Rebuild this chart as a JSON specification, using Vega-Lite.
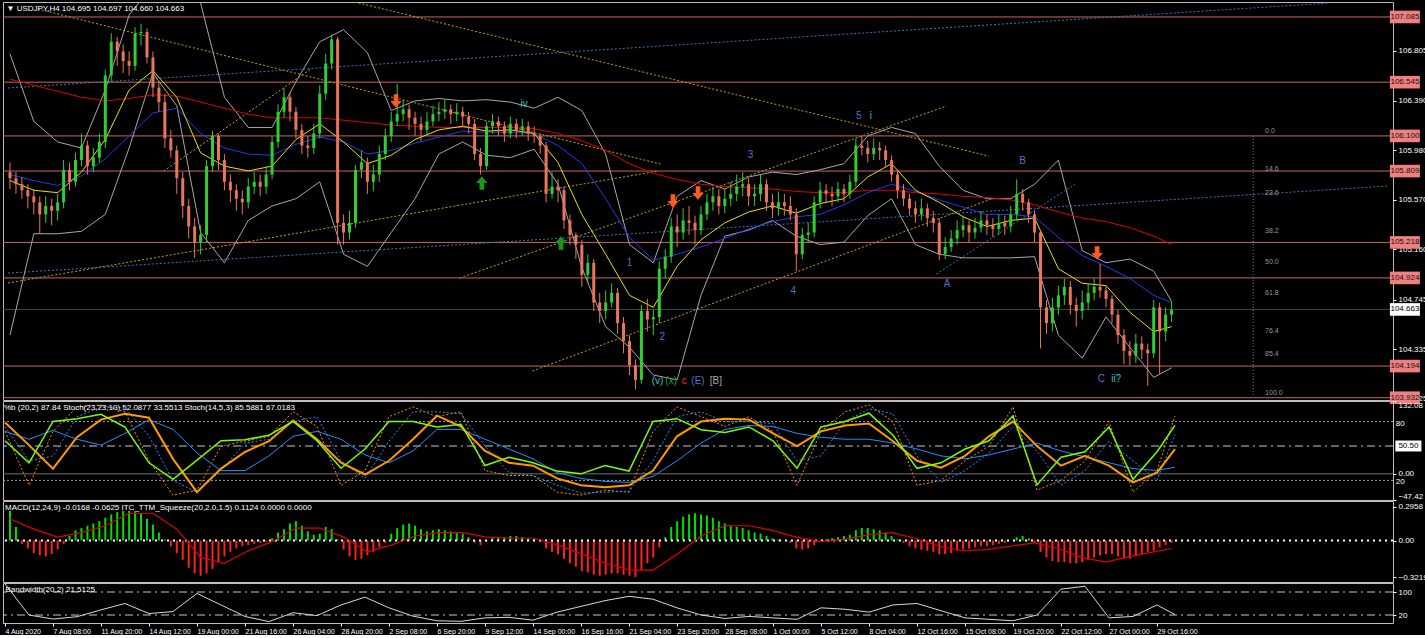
{
"$schema":"https://vega.github.io/schema/vega-lite/v6.json",
"background":"#000000",
"padding":{"top":1,"left":0,"right":0,"bottom":0},
"spacing":1,
"bounds":"flush",
"config":{"view":{"stroke":"#bdbdbd","strokeWidth":1},"axis":{"labelColor":"#ffffff","tickColor":"#ffffff","domain":false,"labelFont":"Liberation Sans","labelFontSize":8,"grid":false,"tickSize":3,"labelPadding":2},"title":{"font":"Liberation Sans","fontSize":8,"fontWeight":"normal","color":"#ffffff","anchor":"start","offset":-11,"dx":4}},
"datasets":{
"c":[
{"k":0,"o":105.8,"h":105.88,"l":105.66,"c":105.75,"m":0.26},
{"k":1,"o":105.75,"h":105.8,"l":105.62,"c":105.7,"m":0.12},
{"k":2,"o":105.7,"h":105.76,"l":105.58,"c":105.65,"m":-0.03},
{"k":3,"o":105.65,"h":105.7,"l":105.5,"c":105.6,"m":-0.07},
{"k":4,"o":105.6,"h":105.66,"l":105.45,"c":105.55,"m":-0.11},
{"k":5,"o":105.55,"h":105.6,"l":105.29,"c":105.45,"m":-0.13},
{"k":6,"o":105.45,"h":105.6,"l":105.38,"c":105.52,"m":-0.14},
{"k":7,"o":105.52,"h":105.58,"l":105.36,"c":105.48,"m":-0.12},
{"k":8,"o":105.48,"h":105.62,"l":105.4,"c":105.55,"m":-0.08},
{"k":9,"o":105.55,"h":105.9,"l":105.5,"c":105.82,"m":-0.03},
{"k":10,"o":105.82,"h":105.88,"l":105.65,"c":105.72,"m":0.04},
{"k":11,"o":105.72,"h":105.96,"l":105.68,"c":105.9,"m":0.09},
{"k":12,"o":105.9,"h":106.12,"l":105.85,"c":106.02,"m":0.11},
{"k":13,"o":106.02,"h":106.06,"l":105.78,"c":105.85,"m":0.13},
{"k":14,"o":105.85,"h":106.0,"l":105.8,"c":105.92,"m":0.15},
{"k":15,"o":105.92,"h":106.12,"l":105.88,"c":106.05,"m":0.17},
{"k":16,"o":106.05,"h":106.65,"l":106.0,"c":106.6,"m":0.2},
{"k":17,"o":106.6,"h":106.95,"l":106.55,"c":106.88,"m":0.23},
{"k":18,"o":106.88,"h":106.92,"l":106.68,"c":106.8,"m":0.25},
{"k":19,"o":106.8,"h":106.86,"l":106.62,"c":106.72,"m":0.26},
{"k":20,"o":106.72,"h":106.8,"l":106.6,"c":106.68,"m":0.26},
{"k":21,"o":106.68,"h":107.0,"l":106.64,"c":106.95,"m":0.25},
{"k":22,"o":106.95,"h":107.03,"l":106.85,"c":106.96,"m":0.24},
{"k":23,"o":106.96,"h":106.99,"l":106.7,"c":106.75,"m":0.19},
{"k":24,"o":106.75,"h":106.8,"l":106.42,"c":106.5,"m":0.14},
{"k":25,"o":106.5,"h":106.55,"l":106.3,"c":106.38,"m":0.07},
{"k":26,"o":106.38,"h":106.45,"l":106.0,"c":106.08,"m":0.01},
{"k":27,"o":106.08,"h":106.15,"l":105.92,"c":105.98,"m":-0.05},
{"k":28,"o":105.98,"h":106.02,"l":105.62,"c":105.75,"m":-0.11},
{"k":29,"o":105.75,"h":105.8,"l":105.42,"c":105.52,"m":-0.17},
{"k":30,"o":105.52,"h":105.58,"l":105.25,"c":105.35,"m":-0.24},
{"k":31,"o":105.35,"h":105.42,"l":105.09,"c":105.22,"m":-0.29},
{"k":32,"o":105.22,"h":105.36,"l":105.12,"c":105.28,"m":-0.31},
{"k":33,"o":105.28,"h":105.9,"l":105.22,"c":105.85,"m":-0.29},
{"k":34,"o":105.85,"h":106.14,"l":105.8,"c":106.1,"m":-0.25},
{"k":35,"o":106.1,"h":106.12,"l":105.82,"c":105.9,"m":-0.19},
{"k":36,"o":105.9,"h":105.95,"l":105.65,"c":105.72,"m":-0.14},
{"k":37,"o":105.72,"h":105.78,"l":105.55,"c":105.65,"m":-0.1},
{"k":38,"o":105.65,"h":105.7,"l":105.48,"c":105.58,"m":-0.07},
{"k":39,"o":105.58,"h":105.65,"l":105.45,"c":105.55,"m":-0.05},
{"k":40,"o":105.55,"h":105.75,"l":105.5,"c":105.68,"m":-0.04},
{"k":41,"o":105.68,"h":105.8,"l":105.62,"c":105.72,"m":-0.03},
{"k":42,"o":105.72,"h":105.78,"l":105.6,"c":105.68,"m":-0.02},
{"k":43,"o":105.68,"h":105.85,"l":105.62,"c":105.78,"m":-0.01},
{"k":44,"o":105.78,"h":106.1,"l":105.74,"c":106.05,"m":0.02},
{"k":45,"o":106.05,"h":106.36,"l":106.0,"c":106.3,"m":0.07},
{"k":46,"o":106.3,"h":106.5,"l":106.25,"c":106.42,"m":0.1},
{"k":47,"o":106.42,"h":106.46,"l":106.22,"c":106.3,"m":0.15},
{"k":48,"o":106.3,"h":106.34,"l":106.08,"c":106.15,"m":0.17},
{"k":49,"o":106.15,"h":106.2,"l":105.95,"c":106.02,"m":0.13},
{"k":50,"o":106.02,"h":106.1,"l":105.92,"c":106.0,"m":0.08},
{"k":51,"o":106.0,"h":106.2,"l":105.95,"c":106.12,"m":0.05},
{"k":52,"o":106.12,"h":106.52,"l":106.08,"c":106.45,"m":0.06},
{"k":53,"o":106.45,"h":106.78,"l":106.4,"c":106.7,"m":0.12},
{"k":54,"o":106.7,"h":106.94,"l":106.65,"c":106.9,"m":0.1},
{"k":55,"o":106.9,"h":106.92,"l":105.2,"c":105.38,"m":0.01},
{"k":56,"o":105.38,"h":105.45,"l":105.2,"c":105.3,"m":-0.08},
{"k":57,"o":105.3,"h":105.48,"l":105.24,"c":105.38,"m":-0.14},
{"k":58,"o":105.38,"h":105.86,"l":105.34,"c":105.82,"m":-0.17},
{"k":59,"o":105.82,"h":105.98,"l":105.75,"c":105.88,"m":-0.16},
{"k":60,"o":105.88,"h":105.92,"l":105.62,"c":105.72,"m":-0.13},
{"k":61,"o":105.72,"h":105.86,"l":105.64,"c":105.78,"m":-0.1},
{"k":62,"o":105.78,"h":106.02,"l":105.72,"c":105.95,"m":-0.06},
{"k":63,"o":105.95,"h":106.16,"l":105.9,"c":106.1,"m":-0.02},
{"k":64,"o":106.1,"h":106.3,"l":106.05,"c":106.22,"m":0.06},
{"k":65,"o":106.22,"h":106.53,"l":106.18,"c":106.28,"m":0.11},
{"k":66,"o":106.28,"h":106.4,"l":106.22,"c":106.32,"m":0.14},
{"k":67,"o":106.32,"h":106.36,"l":106.15,"c":106.25,"m":0.15},
{"k":68,"o":106.25,"h":106.3,"l":106.1,"c":106.2,"m":0.13},
{"k":69,"o":106.2,"h":106.26,"l":106.06,"c":106.15,"m":0.1},
{"k":70,"o":106.15,"h":106.3,"l":106.1,"c":106.22,"m":0.08},
{"k":71,"o":106.22,"h":106.35,"l":106.18,"c":106.28,"m":0.09},
{"k":72,"o":106.28,"h":106.38,"l":106.22,"c":106.3,"m":0.1},
{"k":73,"o":106.3,"h":106.4,"l":106.24,"c":106.32,"m":0.09},
{"k":74,"o":106.32,"h":106.36,"l":106.2,"c":106.28,"m":0.08},
{"k":75,"o":106.28,"h":106.37,"l":106.22,"c":106.3,"m":0.07},
{"k":76,"o":106.3,"h":106.34,"l":106.18,"c":106.26,"m":0.06},
{"k":77,"o":106.26,"h":106.3,"l":106.12,"c":106.2,"m":0.03},
{"k":78,"o":106.2,"h":106.24,"l":105.9,"c":105.95,"m":-0.02},
{"k":79,"o":105.95,"h":106.0,"l":105.78,"c":105.85,"m":-0.04},
{"k":80,"o":105.85,"h":106.22,"l":105.82,"c":106.18,"m":-0.01},
{"k":81,"o":106.18,"h":106.28,"l":106.12,"c":106.22,"m":0.02},
{"k":82,"o":106.22,"h":106.26,"l":106.1,"c":106.18,"m":0.03},
{"k":83,"o":106.18,"h":106.22,"l":106.05,"c":106.12,"m":0.03},
{"k":84,"o":106.12,"h":106.26,"l":106.08,"c":106.2,"m":0.04},
{"k":85,"o":106.2,"h":106.24,"l":106.08,"c":106.15,"m":0.04},
{"k":86,"o":106.15,"h":106.24,"l":106.1,"c":106.18,"m":0.03},
{"k":87,"o":106.18,"h":106.22,"l":106.06,"c":106.12,"m":0.02},
{"k":88,"o":106.12,"h":106.18,"l":106.04,"c":106.1,"m":0.01},
{"k":89,"o":106.1,"h":106.12,"l":105.95,"c":106.02,"m":-0.01},
{"k":90,"o":106.02,"h":106.05,"l":105.55,"c":105.62,"m":-0.07},
{"k":91,"o":105.62,"h":105.8,"l":105.58,"c":105.68,"m":-0.1},
{"k":92,"o":105.68,"h":105.74,"l":105.55,"c":105.65,"m":-0.12},
{"k":93,"o":105.65,"h":105.68,"l":105.33,"c":105.4,"m":-0.16},
{"k":94,"o":105.4,"h":105.45,"l":105.2,"c":105.28,"m":-0.2},
{"k":95,"o":105.28,"h":105.3,"l":105.08,"c":105.2,"m":-0.23},
{"k":96,"o":105.2,"h":105.24,"l":104.85,"c":104.95,"m":-0.27},
{"k":97,"o":104.95,"h":105.12,"l":104.88,"c":105.05,"m":-0.28},
{"k":98,"o":105.05,"h":105.08,"l":104.65,"c":104.72,"m":-0.3},
{"k":99,"o":104.72,"h":104.8,"l":104.55,"c":104.65,"m":-0.31},
{"k":100,"o":104.65,"h":104.82,"l":104.58,"c":104.72,"m":-0.3},
{"k":101,"o":104.72,"h":104.88,"l":104.68,"c":104.8,"m":-0.29},
{"k":102,"o":104.8,"h":104.84,"l":104.46,"c":104.55,"m":-0.29},
{"k":103,"o":104.55,"h":104.6,"l":104.3,"c":104.4,"m":-0.3},
{"k":104,"o":104.4,"h":104.45,"l":104.12,"c":104.2,"m":-0.31},
{"k":105,"o":104.2,"h":104.25,"l":104.0,"c":104.08,"m":-0.32},
{"k":106,"o":104.08,"h":104.7,"l":104.05,"c":104.65,"m":-0.26},
{"k":107,"o":104.65,"h":104.75,"l":104.48,"c":104.58,"m":-0.2},
{"k":108,"o":104.58,"h":104.66,"l":104.45,"c":104.6,"m":-0.15},
{"k":109,"o":104.6,"h":105.06,"l":104.55,"c":105.0,"m":-0.06},
{"k":110,"o":105.0,"h":105.16,"l":104.92,"c":105.1,"m":0.03},
{"k":111,"o":105.1,"h":105.42,"l":105.05,"c":105.35,"m":0.12},
{"k":112,"o":105.35,"h":105.45,"l":105.18,"c":105.3,"m":0.17},
{"k":113,"o":105.3,"h":105.5,"l":105.24,"c":105.4,"m":0.21},
{"k":114,"o":105.4,"h":105.52,"l":105.28,"c":105.38,"m":0.23},
{"k":115,"o":105.38,"h":105.44,"l":105.2,"c":105.32,"m":0.24},
{"k":116,"o":105.32,"h":105.52,"l":105.28,"c":105.45,"m":0.23},
{"k":117,"o":105.45,"h":105.62,"l":105.4,"c":105.55,"m":0.22},
{"k":118,"o":105.55,"h":105.68,"l":105.48,"c":105.6,"m":0.2},
{"k":119,"o":105.6,"h":105.66,"l":105.45,"c":105.52,"m":0.17},
{"k":120,"o":105.52,"h":105.66,"l":105.46,"c":105.58,"m":0.15},
{"k":121,"o":105.58,"h":105.72,"l":105.52,"c":105.62,"m":0.13},
{"k":122,"o":105.62,"h":105.78,"l":105.56,"c":105.68,"m":0.12},
{"k":123,"o":105.68,"h":105.8,"l":105.6,"c":105.7,"m":0.11},
{"k":124,"o":105.7,"h":105.75,"l":105.52,"c":105.6,"m":0.09},
{"k":125,"o":105.6,"h":105.7,"l":105.52,"c":105.62,"m":0.07},
{"k":126,"o":105.62,"h":105.78,"l":105.56,"c":105.7,"m":0.06},
{"k":127,"o":105.7,"h":105.74,"l":105.48,"c":105.55,"m":0.04},
{"k":128,"o":105.55,"h":105.62,"l":105.42,"c":105.5,"m":0.02},
{"k":129,"o":105.5,"h":105.64,"l":105.44,"c":105.55,"m":0.01},
{"k":130,"o":105.55,"h":105.62,"l":105.44,"c":105.52,"m":0.0},
{"k":131,"o":105.52,"h":105.6,"l":105.4,"c":105.45,"m":-0.02},
{"k":132,"o":105.45,"h":105.5,"l":104.98,"c":105.12,"m":-0.07},
{"k":133,"o":105.12,"h":105.34,"l":105.08,"c":105.28,"m":-0.08},
{"k":134,"o":105.28,"h":105.38,"l":105.22,"c":105.3,"m":-0.07},
{"k":135,"o":105.3,"h":105.6,"l":105.26,"c":105.55,"m":-0.04},
{"k":136,"o":105.55,"h":105.72,"l":105.5,"c":105.65,"m":-0.01},
{"k":137,"o":105.65,"h":105.7,"l":105.55,"c":105.62,"m":0.01},
{"k":138,"o":105.62,"h":105.68,"l":105.52,"c":105.6,"m":0.02},
{"k":139,"o":105.6,"h":105.72,"l":105.55,"c":105.66,"m":0.03},
{"k":140,"o":105.66,"h":105.7,"l":105.55,"c":105.62,"m":0.04},
{"k":141,"o":105.62,"h":105.78,"l":105.58,"c":105.72,"m":0.05},
{"k":142,"o":105.72,"h":106.08,"l":105.68,"c":106.02,"m":0.09},
{"k":143,"o":106.02,"h":106.1,"l":105.94,"c":106.0,"m":0.11},
{"k":144,"o":106.0,"h":106.06,"l":105.88,"c":105.95,"m":0.11},
{"k":145,"o":105.95,"h":106.08,"l":105.9,"c":106.0,"m":0.1},
{"k":146,"o":106.0,"h":106.05,"l":105.9,"c":105.98,"m":0.09},
{"k":147,"o":105.98,"h":106.02,"l":105.84,"c":105.9,"m":0.07},
{"k":148,"o":105.9,"h":105.94,"l":105.72,"c":105.78,"m":0.04},
{"k":149,"o":105.78,"h":105.82,"l":105.58,"c":105.65,"m":0.01},
{"k":150,"o":105.65,"h":105.7,"l":105.52,"c":105.58,"m":-0.02},
{"k":151,"o":105.58,"h":105.62,"l":105.44,"c":105.5,"m":-0.05},
{"k":152,"o":105.5,"h":105.56,"l":105.38,"c":105.45,"m":-0.07},
{"k":153,"o":105.45,"h":105.58,"l":105.4,"c":105.5,"m":-0.08},
{"k":154,"o":105.5,"h":105.54,"l":105.35,"c":105.42,"m":-0.09},
{"k":155,"o":105.42,"h":105.48,"l":105.3,"c":105.38,"m":-0.1},
{"k":156,"o":105.38,"h":105.42,"l":105.07,"c":105.12,"m":-0.12},
{"k":157,"o":105.12,"h":105.26,"l":105.08,"c":105.18,"m":-0.12},
{"k":158,"o":105.18,"h":105.32,"l":105.14,"c":105.25,"m":-0.11},
{"k":159,"o":105.25,"h":105.4,"l":105.2,"c":105.32,"m":-0.09},
{"k":160,"o":105.32,"h":105.44,"l":105.26,"c":105.36,"m":-0.08},
{"k":161,"o":105.36,"h":105.4,"l":105.22,"c":105.3,"m":-0.07},
{"k":162,"o":105.3,"h":105.42,"l":105.25,"c":105.34,"m":-0.06},
{"k":163,"o":105.34,"h":105.48,"l":105.3,"c":105.4,"m":-0.05},
{"k":164,"o":105.4,"h":105.45,"l":105.28,"c":105.36,"m":-0.05},
{"k":165,"o":105.36,"h":105.42,"l":105.26,"c":105.33,"m":-0.04},
{"k":166,"o":105.33,"h":105.45,"l":105.28,"c":105.38,"m":-0.03},
{"k":167,"o":105.38,"h":105.44,"l":105.28,"c":105.35,"m":-0.02},
{"k":168,"o":105.35,"h":105.52,"l":105.3,"c":105.45,"m":0.0},
{"k":169,"o":105.45,"h":105.74,"l":105.4,"c":105.62,"m":0.03},
{"k":170,"o":105.62,"h":105.66,"l":105.48,"c":105.55,"m":0.04},
{"k":171,"o":105.55,"h":105.58,"l":105.38,"c":105.45,"m":0.02},
{"k":172,"o":105.45,"h":105.48,"l":105.22,"c":105.3,"m":-0.02},
{"k":173,"o":105.3,"h":105.32,"l":104.34,"c":104.68,"m":-0.1},
{"k":174,"o":104.68,"h":104.74,"l":104.46,"c":104.55,"m":-0.15},
{"k":175,"o":104.55,"h":104.76,"l":104.48,"c":104.68,"m":-0.18},
{"k":176,"o":104.68,"h":104.86,"l":104.62,"c":104.78,"m":-0.19},
{"k":177,"o":104.78,"h":104.92,"l":104.7,"c":104.85,"m":-0.19},
{"k":178,"o":104.85,"h":104.9,"l":104.62,"c":104.7,"m":-0.2},
{"k":179,"o":104.7,"h":104.76,"l":104.52,"c":104.65,"m":-0.2},
{"k":180,"o":104.65,"h":104.82,"l":104.58,"c":104.72,"m":-0.19},
{"k":181,"o":104.72,"h":104.88,"l":104.66,"c":104.8,"m":-0.17},
{"k":182,"o":104.8,"h":104.92,"l":104.74,"c":104.85,"m":-0.15},
{"k":183,"o":104.85,"h":105.04,"l":104.76,"c":104.82,"m":-0.13},
{"k":184,"o":104.82,"h":104.86,"l":104.68,"c":104.75,"m":-0.12},
{"k":185,"o":104.75,"h":104.78,"l":104.55,"c":104.62,"m":-0.12},
{"k":186,"o":104.62,"h":104.66,"l":104.38,"c":104.45,"m":-0.14},
{"k":187,"o":104.45,"h":104.5,"l":104.21,"c":104.32,"m":-0.16},
{"k":188,"o":104.32,"h":104.4,"l":104.2,"c":104.28,"m":-0.16},
{"k":189,"o":104.28,"h":104.46,"l":104.22,"c":104.38,"m":-0.14},
{"k":190,"o":104.38,"h":104.44,"l":104.25,"c":104.33,"m":-0.12},
{"k":191,"o":104.33,"h":104.38,"l":104.03,"c":104.3,"m":-0.1},
{"k":192,"o":104.3,"h":104.74,"l":104.26,"c":104.68,"m":-0.09},
{"k":193,"o":104.68,"h":104.72,"l":104.13,"c":104.48,"m":-0.06},
{"k":194,"o":104.48,"h":104.68,"l":104.4,"c":104.62,"m":-0.04},
{"k":195,"o":104.62,"h":104.73,"l":104.56,"c":104.66,"m":-0.02}
],
"ind":[
{"k":0,"y1":105.73,"b2":105.78,"r3":106.57,"bu":106.78,"bl":104.45,"ms":0.19,"bw":128,"pb":60,"s1":79,"s2":70,"f1":70,"f2":75},
{"k":4,"y1":105.65,"b2":105.73,"r3":106.52,"bu":106.22,"bl":105.29,"ms":0.1,"bw":20,"pb":20,"s1":56,"s2":62,"f1":15,"f2":40},
{"k":8,"y1":105.63,"b2":105.69,"r3":106.47,"bu":106.05,"bl":105.29,"ms":0.03,"bw":6,"pb":95,"s1":32,"s2":71,"f1":70,"f2":45},
{"k":12,"y1":105.8,"b2":105.77,"r3":106.42,"bu":106.0,"bl":105.31,"ms":0.07,"bw":14,"pb":100,"s1":64,"s2":62,"f1":95,"f2":85},
{"k":16,"y1":106.07,"b2":105.91,"r3":106.39,"bu":106.48,"bl":105.45,"ms":0.13,"bw":38,"pb":108,"s1":82,"s2":56,"f1":97,"f2":95},
{"k":20,"y1":106.48,"b2":106.1,"r3":106.41,"bu":107.1,"bl":106.0,"ms":0.24,"bw":60,"pb":85,"s1":88,"s2":68,"f1":90,"f2":94},
{"k":24,"y1":106.64,"b2":106.29,"r3":106.44,"bu":107.35,"bl":106.62,"ms":0.24,"bw":25,"pb":20,"s1":84,"s2":82,"f1":40,"f2":65},
{"k":28,"y1":106.42,"b2":106.33,"r3":106.43,"bu":107.4,"bl":106.35,"ms":0.1,"bw":32,"pb":-10,"s1":42,"s2":72,"f1":5,"f2":20},
{"k":32,"y1":105.96,"b2":106.12,"r3":106.38,"bu":107.2,"bl":105.3,"ms":-0.15,"bw":95,"pb":25,"s1":8,"s2":48,"f1":10,"f2":8},
{"k":36,"y1":105.85,"b2":106.0,"r3":106.33,"bu":106.42,"bl":105.05,"ms":-0.2,"bw":55,"pb":60,"s1":32,"s2":30,"f1":55,"f2":30},
{"k":40,"y1":105.81,"b2":105.95,"r3":106.28,"bu":106.17,"bl":105.4,"ms":-0.09,"bw":15,"pb":62,"s1":49,"s2":30,"f1":60,"f2":58},
{"k":44,"y1":105.85,"b2":105.94,"r3":106.25,"bu":106.17,"bl":105.52,"ms":-0.01,"bw":-3,"pb":70,"s1":60,"s2":45,"f1":65,"f2":62},
{"k":48,"y1":106.07,"b2":106.03,"r3":106.25,"bu":106.55,"bl":105.58,"ms":0.11,"bw":28,"pb":95,"s1":81,"s2":65,"f1":90,"f2":80},
{"k":52,"y1":106.2,"b2":106.09,"r3":106.25,"bu":106.88,"bl":105.72,"ms":0.11,"bw":18,"pb":60,"s1":62,"s2":70,"f1":75,"f2":85},
{"k":56,"y1":106.05,"b2":106.05,"r3":106.23,"bu":106.98,"bl":105.12,"ms":0.03,"bw":55,"pb":10,"s1":38,"s2":62,"f1":15,"f2":40},
{"k":60,"y1":105.87,"b2":105.95,"r3":106.21,"bu":106.79,"bl":105.02,"ms":-0.1,"bw":82,"pb":45,"s1":26,"s2":46,"f1":30,"f2":22},
{"k":64,"y1":105.94,"b2":105.98,"r3":106.19,"bu":106.31,"bl":105.3,"ms":-0.04,"bw":45,"pb":95,"s1":40,"s2":38,"f1":85,"f2":60},
{"k":68,"y1":106.07,"b2":106.04,"r3":106.18,"bu":106.39,"bl":105.58,"ms":0.04,"bw":16,"pb":95,"s1":62,"s2":50,"f1":95,"f2":90},
{"k":72,"y1":106.15,"b2":106.09,"r3":106.17,"bu":106.41,"bl":105.95,"ms":0.07,"bw":0,"pb":85,"s1":86,"s2":72,"f1":85,"f2":90},
{"k":76,"y1":106.18,"b2":106.14,"r3":106.17,"bu":106.39,"bl":106.05,"ms":0.07,"bw":-2,"pb":90,"s1":75,"s2":72,"f1":90,"f2":88},
{"k":80,"y1":106.14,"b2":106.13,"r3":106.17,"bu":106.4,"bl":105.94,"ms":0.03,"bw":10,"pb":15,"s1":50,"s2":62,"f1":30,"f2":55},
{"k":84,"y1":106.15,"b2":106.13,"r3":106.17,"bu":106.38,"bl":105.92,"ms":0.02,"bw":12,"pb":30,"s1":38,"s2":52,"f1":25,"f2":28},
{"k":88,"y1":106.12,"b2":106.12,"r3":106.16,"bu":106.33,"bl":105.99,"ms":0.02,"bw":2,"pb":20,"s1":35,"s2":42,"f1":25,"f2":25},
{"k":92,"y1":105.88,"b2":106.02,"r3":106.12,"bu":106.42,"bl":105.7,"ms":-0.04,"bw":30,"pb":5,"s1":22,"s2":28,"f1":8,"f2":15},
{"k":96,"y1":105.45,"b2":105.87,"r3":106.06,"bu":106.31,"bl":105.01,"ms":-0.12,"bw":50,"pb":0,"s1":15,"s2":22,"f1":5,"f2":7},
{"k":100,"y1":105.12,"b2":105.58,"r3":105.98,"bu":105.95,"bl":104.52,"ms":-0.2,"bw":70,"pb":15,"s1":13,"s2":19,"f1":10,"f2":8},
{"k":104,"y1":104.78,"b2":105.26,"r3":105.87,"bu":105.2,"bl":104.35,"ms":-0.26,"bw":85,"pb":5,"s1":15,"s2":18,"f1":8,"f2":9},
{"k":108,"y1":104.68,"b2":105.07,"r3":105.79,"bu":105.05,"bl":104.12,"ms":-0.26,"bw":75,"pb":95,"s1":30,"s2":24,"f1":70,"f2":40},
{"k":112,"y1":105.02,"b2":105.12,"r3":105.74,"bu":105.6,"bl":104.08,"ms":-0.12,"bw":45,"pb":100,"s1":65,"s2":40,"f1":95,"f2":85},
{"k":116,"y1":105.24,"b2":105.18,"r3":105.7,"bu":105.73,"bl":104.78,"ms":0.04,"bw":20,"pb":80,"s1":80,"s2":58,"f1":85,"f2":90},
{"k":120,"y1":105.38,"b2":105.25,"r3":105.68,"bu":105.66,"bl":105.27,"ms":0.13,"bw":8,"pb":75,"s1":83,"s2":72,"f1":75,"f2":80},
{"k":124,"y1":105.47,"b2":105.33,"r3":105.67,"bu":105.76,"bl":105.32,"ms":0.13,"bw":15,"pb":85,"s1":82,"s2":76,"f1":85,"f2":80},
{"k":128,"y1":105.52,"b2":105.39,"r3":105.66,"bu":105.8,"bl":105.4,"ms":0.09,"bw":10,"pb":60,"s1":68,"s2":75,"f1":70,"f2":78},
{"k":132,"y1":105.46,"b2":105.43,"r3":105.64,"bu":105.78,"bl":105.27,"ms":0.03,"bw":5,"pb":10,"s1":55,"s2":68,"f1":15,"f2":40},
{"k":136,"y1":105.54,"b2":105.45,"r3":105.63,"bu":105.82,"bl":105.2,"ms":-0.01,"bw":45,"pb":85,"s1":70,"s2":64,"f1":70,"f2":45},
{"k":140,"y1":105.58,"b2":105.53,"r3":105.63,"bu":105.87,"bl":105.22,"ms":0.01,"bw":40,"pb":95,"s1":76,"s2":62,"f1":90,"f2":80},
{"k":144,"y1":105.76,"b2":105.63,"r3":105.65,"bu":106.1,"bl":105.44,"ms":0.05,"bw":30,"pb":110,"s1":78,"s2":62,"f1":97,"f2":93},
{"k":148,"y1":105.87,"b2":105.7,"r3":105.65,"bu":106.17,"bl":105.58,"ms":0.07,"bw":55,"pb":70,"s1":60,"s2":58,"f1":80,"f2":88},
{"k":152,"y1":105.65,"b2":105.64,"r3":105.63,"bu":106.12,"bl":105.2,"ms":0.02,"bw":60,"pb":10,"s1":40,"s2":52,"f1":15,"f2":45},
{"k":156,"y1":105.55,"b2":105.57,"r3":105.62,"bu":105.85,"bl":105.12,"ms":-0.05,"bw":35,"pb":20,"s1":33,"s2":45,"f1":20,"f2":18},
{"k":160,"y1":105.43,"b2":105.51,"r3":105.6,"bu":105.65,"bl":105.09,"ms":-0.09,"bw":10,"pb":45,"s1":45,"s2":42,"f1":40,"f2":30},
{"k":164,"y1":105.35,"b2":105.45,"r3":105.59,"bu":105.58,"bl":105.09,"ms":-0.08,"bw":5,"pb":60,"s1":65,"s2":46,"f1":55,"f2":48},
{"k":168,"y1":105.4,"b2":105.45,"r3":105.57,"bu":105.58,"bl":105.09,"ms":-0.05,"bw":0,"pb":105,"s1":80,"s2":52,"f1":95,"f2":75},
{"k":172,"y1":105.42,"b2":105.43,"r3":105.53,"bu":105.7,"bl":105.1,"ms":-0.02,"bw":20,"pb":-20,"s1":55,"s2":58,"f1":10,"f2":50},
{"k":176,"y1":105.0,"b2":105.26,"r3":105.47,"bu":105.9,"bl":104.45,"ms":-0.07,"bw":110,"pb":30,"s1":35,"s2":50,"f1":20,"f2":15},
{"k":180,"y1":104.88,"b2":105.11,"r3":105.42,"bu":105.15,"bl":104.26,"ms":-0.15,"bw":120,"pb":40,"s1":45,"s2":44,"f1":40,"f2":30},
{"k":184,"y1":104.86,"b2":105.02,"r3":105.39,"bu":105.05,"bl":104.6,"ms":-0.19,"bw":10,"pb":85,"s1":35,"s2":38,"f1":80,"f2":60},
{"k":188,"y1":104.64,"b2":104.92,"r3":105.34,"bu":105.08,"bl":104.35,"ms":-0.14,"bw":15,"pb":-10,"s1":18,"s2":32,"f1":8,"f2":40},
{"k":192,"y1":104.48,"b2":104.78,"r3":105.27,"bu":104.98,"bl":104.1,"ms":-0.1,"bw":55,"pb":40,"s1":28,"s2":30,"f1":30,"f2":20},
{"k":195,"y1":104.52,"b2":104.72,"r3":105.2,"bu":104.73,"bl":104.18,"ms":-0.07,"bw":21.5,"pb":88,"s1":52,"s2":33.5,"f1":85.6,"f2":67}
],
"lv":[{"p":107.085},{"p":106.545},{"p":106.1},{"p":105.809},{"p":105.218},{"p":104.924},{"p":104.194},{"p":103.932}],
"cur":[{"p":104.663}],
"tl":[
{"k1":4.67,"p1":107.151,"k2":109.2,"p2":105.867,"g":"y"},
{"k1":57.2,"p1":107.217,"k2":164.3,"p2":105.933,"g":"y"},
{"k1":-0.33,"p1":104.882,"k2":108.8,"p2":105.809,"g":"y"},
{"k1":25.8,"p1":105.809,"k2":50.5,"p2":106.654,"g":"y"},
{"k1":75.5,"p1":104.923,"k2":157.2,"p2":106.347,"g":"y"},
{"k1":87.7,"p1":104.153,"k2":164.7,"p2":105.577,"g":"y"},
{"k1":-0.33,"p1":106.497,"k2":221.3,"p2":107.2,"g":"b"},
{"k1":-0.33,"p1":104.964,"k2":231.3,"p2":105.685,"g":"b"},
{"k1":155.5,"p1":104.956,"k2":178.8,"p2":105.701,"g":"b"}
],
"fibv":[{"top":106.1,"bot":103.932}],
"ann":[
{"k":86.3,"p":106.364,"t":"iv","g":"t"},
{"k":124.3,"p":105.942,"t":"3","g":"w"},
{"k":142.5,"p":106.265,"t":"5","g":"w"},
{"k":144.5,"p":106.265,"t":"i","g":"t"},
{"k":170,"p":105.892,"t":"B","g":"w"},
{"k":157.3,"p":104.873,"t":"A","g":"w"},
{"k":104,"p":105.047,"t":"1","g":"w"},
{"k":109.5,"p":104.434,"t":"2","g":"w"},
{"k":131.5,"p":104.815,"t":"4","g":"w"},
{"k":108.7,"p":104.07,"t":"(v)","g":"t"},
{"k":111.0,"p":104.07,"t":"(x)","g":"x"},
{"k":113.2,"p":104.07,"t":"c","g":"c"},
{"k":115.5,"p":104.07,"t":"(E)","g":"w"},
{"k":118.5,"p":104.07,"t":"[B]","g":"gr"},
{"k":183.2,"p":104.087,"t":"C","g":"w"},
{"k":185.7,"p":104.087,"t":"ii?","g":"t"}
],
"arw":[
{"k":64.8,"p":106.389,"g":"dn"},
{"k":111.3,"p":105.561,"g":"dn"},
{"k":115.5,"p":105.627,"g":"dn"},
{"k":182.5,"p":105.13,"g":"dn"},
{"k":79.2,"p":105.71,"g":"up"},
{"k":92.5,"p":105.213,"g":"up"}
],
"fib":[{"lab":"0.0","p":106.1},{"lab":"14.6","p":105.783},{"lab":"23.6","p":105.588},{"lab":"38.2","p":105.272},{"lab":"50.0","p":105.016},{"lab":"61.8","p":104.76},{"lab":"76.4","p":104.444},{"lab":"85.4","p":104.249},{"lab":"100.0","p":103.932}]
},
"vconcat":[
{
"width":1390,"height":398,
"title":{"text":"▼ USDJPY,H4  104.695 104.697 104.660 104.663"},
"resolve":{"scale":{"color":"independent"}},
"layer":[
{"data":{"name":"lv"},"mark":{"type":"rule","color":"#c86464","strokeWidth":1},
 "encoding":{"y":{"field":"p","type":"quantitative","scale":{"domain":[103.913,107.209],"nice":false,"zero":false},
  "axis":{"orient":"right","title":null,"format":".3f","labelOverlap":false,"values":[107.01,106.805,106.6,106.39,106.185,105.98,105.775,105.57,105.365,105.16,104.955,104.745,104.54,104.335,104.13,103.925]}}}},
{"data":{"name":"cur"},"mark":{"type":"rule","color":"#2f4f4f","strokeWidth":1},
 "encoding":{"y":{"field":"p","type":"quantitative","scale":{"domain":[103.913,107.209],"nice":false,"zero":false}}}},
{"data":{"name":"tl"},"mark":{"type":"rule","strokeDash":[2,2],"strokeWidth":1,"clip":true},
 "encoding":{"x":{"field":"k1","type":"quantitative","scale":{"domain":[-0.333,231.333],"nice":false,"zero":false},"axis":null},"x2":{"field":"k2"},
  "y":{"field":"p1","type":"quantitative","scale":{"domain":[103.913,107.209],"nice":false,"zero":false}},"y2":{"field":"p2"},
  "color":{"field":"g","type":"nominal","scale":{"domain":["y","b"],"range":["#c8a400","#3a78b8"]},"legend":null}}},
{"data":{"name":"fibv"},"mark":{"type":"rule","color":"#8a8a8a","strokeDash":[1,2]},
 "encoding":{"x":{"datum":208.7,"type":"quantitative","scale":{"domain":[-0.333,231.333],"nice":false,"zero":false},"axis":null},
  "y":{"field":"top","type":"quantitative","scale":{"domain":[103.913,107.209],"nice":false,"zero":false}},"y2":{"field":"bot"}}},
{"data":{"name":"fib"},"mark":{"type":"text","color":"#9a9a9a","font":"Liberation Sans","fontSize":7,"align":"left","dy":-5},
 "encoding":{"x":{"datum":210.7,"type":"quantitative","scale":{"domain":[-0.333,231.333],"nice":false,"zero":false},"axis":null},
  "y":{"field":"p","type":"quantitative","scale":{"domain":[103.913,107.209],"nice":false,"zero":false}},"text":{"field":"lab","type":"nominal"}}},
{"data":{"name":"ind"},"transform":[{"fold":["bu","bl","r3","b2","y1"],"as":["key","val"]}],
 "mark":{"type":"line","strokeWidth":1,"clip":true},
 "encoding":{"x":{"field":"k","type":"quantitative","scale":{"domain":[-0.333,231.333],"nice":false,"zero":false},"axis":null},
  "y":{"field":"val","type":"quantitative","scale":{"domain":[103.913,107.209],"nice":false,"zero":false}},
  "color":{"field":"key","type":"nominal","scale":{"domain":["bu","bl","r3","b2","y1"],"range":["#a8a8a8","#a8a8a8","#e00000","#1e3cf0","#f0e000"]},"legend":null}}},
{"data":{"name":"c"},"mark":{"type":"rule","strokeWidth":1},
 "encoding":{"x":{"field":"k","type":"quantitative","scale":{"domain":[-0.333,231.333],"nice":false,"zero":false},"axis":null},
  "y":{"field":"l","type":"quantitative","scale":{"domain":[103.913,107.209],"nice":false,"zero":false}},"y2":{"field":"h"},
  "color":{"condition":{"test":"datum.c>=datum.o","value":"#32cd32"},"value":"#e8765c"}}},
{"data":{"name":"c"},"mark":{"type":"bar","width":3},
 "encoding":{"x":{"field":"k","type":"quantitative","scale":{"domain":[-0.333,231.333],"nice":false,"zero":false},"axis":null},
  "y":{"field":"o","type":"quantitative","scale":{"domain":[103.913,107.209],"nice":false,"zero":false}},"y2":{"field":"c"},
  "color":{"condition":{"test":"datum.c>=datum.o","value":"#32cd32"},"value":"#e8765c"}}},
{"data":{"name":"ann"},"mark":{"type":"text","font":"Liberation Sans","fontSize":10},
 "encoding":{"x":{"field":"k","type":"quantitative","scale":{"domain":[-0.333,231.333],"nice":false,"zero":false},"axis":null},
  "y":{"field":"p","type":"quantitative","scale":{"domain":[103.913,107.209],"nice":false,"zero":false}},"text":{"field":"t","type":"nominal"},
  "color":{"field":"g","type":"nominal","scale":{"domain":["w","t","x","c","gr"],"range":["#4f73c8","#40c0c0","#20a020","#ff2020","#a8a8a8"]},"legend":null}}},
{"data":{"name":"arw"},"transform":[{"filter":"datum.g=='dn'"}],
 "mark":{"type":"point","shape":"M-0.35,-1L0.35,-1L0.35,0L0.85,0L0,1L-0.85,0L-0.35,0Z","filled":true,"size":180,"color":"#ff5a1e","opacity":1},
 "encoding":{"x":{"field":"k","type":"quantitative","scale":{"domain":[-0.333,231.333],"nice":false,"zero":false},"axis":null},
  "y":{"field":"p","type":"quantitative","scale":{"domain":[103.913,107.209],"nice":false,"zero":false}}}},
{"data":{"name":"arw"},"transform":[{"filter":"datum.g=='up'"}],
 "mark":{"type":"point","shape":"M-0.35,1L0.35,1L0.35,0L0.85,0L0,-1L-0.85,0L-0.35,0Z","filled":true,"size":180,"color":"#1a961a","opacity":1},
 "encoding":{"x":{"field":"k","type":"quantitative","scale":{"domain":[-0.333,231.333],"nice":false,"zero":false},"axis":null},
  "y":{"field":"p","type":"quantitative","scale":{"domain":[103.913,107.209],"nice":false,"zero":false}}}},
{"data":{"name":"lv"},"mark":{"type":"point","shape":"M-1,-0.42H1V0.42H-1Z","filled":true,"size":900,"color":"#f08080","opacity":1},
 "encoding":{"x":{"datum":234.17,"type":"quantitative","scale":{"domain":[-0.333,231.333],"nice":false,"zero":false},"axis":null},
  "y":{"field":"p","type":"quantitative","scale":{"domain":[103.913,107.209],"nice":false,"zero":false}}}},
{"data":{"name":"lv"},"mark":{"type":"text","font":"Liberation Sans","fontSize":8,"color":"#101010"},
 "encoding":{"x":{"datum":234.17,"type":"quantitative","scale":{"domain":[-0.333,231.333],"nice":false,"zero":false},"axis":null},
  "y":{"field":"p","type":"quantitative","scale":{"domain":[103.913,107.209],"nice":false,"zero":false}},"text":{"field":"p","type":"quantitative","format":".3f"}}},
{"data":{"name":"cur"},"mark":{"type":"point","shape":"M-1,-0.42H1V0.42H-1Z","filled":true,"size":900,"color":"#ffffff","opacity":1},
 "encoding":{"x":{"datum":234.17,"type":"quantitative","scale":{"domain":[-0.333,231.333],"nice":false,"zero":false},"axis":null},
  "y":{"field":"p","type":"quantitative","scale":{"domain":[103.913,107.209],"nice":false,"zero":false}}}},
{"data":{"name":"cur"},"mark":{"type":"text","font":"Liberation Sans","fontSize":8,"color":"#000000"},
 "encoding":{"x":{"datum":234.17,"type":"quantitative","scale":{"domain":[-0.333,231.333],"nice":false,"zero":false},"axis":null},
  "y":{"field":"p","type":"quantitative","scale":{"domain":[103.913,107.209],"nice":false,"zero":false}},"text":{"field":"p","type":"quantitative","format":".3f"}}}
]
},
{
"width":1390,"height":99,
"title":{"text":"%b (20,2) 87.84  Stoch(23,23,10) 52.0877 33.5513  Stoch(14,5,3) 85.5881 67.0183","dx":3},
"resolve":{"scale":{"y":"independent"}},
"layer":[
{"data":{"values":[{"v":0}]},"mark":{"type":"rule","color":"#6e6e6e"},
 "encoding":{"y":{"field":"v","type":"quantitative","scale":{"domain":[-47.42,132.08],"nice":false,"zero":false},
  "axis":{"orient":"right","title":null,"values":[132.08,0,-47.42],"labelFlush":true,"labelExpr":"datum.value==0?'0.00':format(datum.value,'.2f')"}}}},
{"data":{"values":[{"v":50.5}]},"mark":{"type":"rule","color":"#c8c8c8","strokeDash":[8,4,2,4]},
 "encoding":{"y":{"field":"v","type":"quantitative","scale":{"domain":[-47.42,132.08],"nice":false,"zero":false},"axis":null}}},
{"data":{"values":[{"v":50.5}]},"mark":{"type":"point","shape":"M-1,-0.42H1V0.42H-1Z","filled":true,"size":680,"color":"#ffffff","opacity":1},
 "encoding":{"x":{"datum":233.9,"type":"quantitative","scale":{"domain":[-0.333,231.333],"nice":false,"zero":false},"axis":null},
  "y":{"field":"v","type":"quantitative","scale":{"domain":[-47.42,132.08],"nice":false,"zero":false},"axis":null}}},
{"data":{"values":[{"v":50.5}]},"mark":{"type":"text","color":"#000000","font":"Liberation Sans","fontSize":8},
 "encoding":{"x":{"datum":233.9,"type":"quantitative","scale":{"domain":[-0.333,231.333],"nice":false,"zero":false},"axis":null},
  "y":{"field":"v","type":"quantitative","scale":{"domain":[-47.42,132.08],"nice":false,"zero":false},"axis":null},"text":{"field":"v","type":"quantitative","format":".2f"}}},
{"data":{"values":[{"v":80},{"v":20}]},"mark":{"type":"rule","color":"#a0a0a0","strokeDash":[2,2]},
 "encoding":{"y":{"field":"v","type":"quantitative","scale":{"domain":[0,101],"nice":false,"zero":false},"axis":null}}},
{"data":{"values":[{"v":80},{"v":20}]},"mark":{"type":"text","color":"#ffffff","font":"Liberation Sans","fontSize":8,"align":"left","dy":2},
 "encoding":{"x":{"datum":231.8,"type":"quantitative","scale":{"domain":[-0.333,231.333],"nice":false,"zero":false},"axis":null},
  "y":{"field":"v","type":"quantitative","scale":{"domain":[0,101],"nice":false,"zero":false},"axis":null},"text":{"field":"v","type":"quantitative"}}},
{"data":{"name":"ind"},"mark":{"type":"line","color":"#ff8c00","strokeWidth":1,"strokeDash":[2,2]},
 "encoding":{"x":{"field":"k","type":"quantitative","scale":{"domain":[-0.333,231.333],"nice":false,"zero":false},"axis":null},
  "y":{"field":"f1","type":"quantitative","scale":{"domain":[0,101],"nice":false,"zero":false},"axis":null}}},
{"data":{"name":"ind"},"mark":{"type":"line","color":"#1e90ff","strokeWidth":1,"strokeDash":[2,2]},
 "encoding":{"x":{"field":"k","type":"quantitative","scale":{"domain":[-0.333,231.333],"nice":false,"zero":false},"axis":null},
  "y":{"field":"f2","type":"quantitative","scale":{"domain":[0,101],"nice":false,"zero":false},"axis":null}}},
{"data":{"name":"ind"},"mark":{"type":"line","color":"#1e90ff","strokeWidth":1},
 "encoding":{"x":{"field":"k","type":"quantitative","scale":{"domain":[-0.333,231.333],"nice":false,"zero":false},"axis":null},
  "y":{"field":"s2","type":"quantitative","scale":{"domain":[0,101],"nice":false,"zero":false},"axis":null}}},
{"data":{"name":"ind"},"mark":{"type":"line","color":"#ff9900","strokeWidth":2},
 "encoding":{"x":{"field":"k","type":"quantitative","scale":{"domain":[-0.333,231.333],"nice":false,"zero":false},"axis":null},
  "y":{"field":"s1","type":"quantitative","scale":{"domain":[0,101],"nice":false,"zero":false},"axis":null}}},
{"data":{"name":"ind"},"mark":{"type":"line","color":"#7cfc00","strokeWidth":1.5,"clip":true},
 "encoding":{"x":{"field":"k","type":"quantitative","scale":{"domain":[-0.333,231.333],"nice":false,"zero":false},"axis":null},
  "y":{"field":"pb","type":"quantitative","scale":{"domain":[-47.42,132.08],"nice":false,"zero":false},"axis":null}}}
]
},
{
"width":1390,"height":81,
"title":{"text":"MACD(12,24,9) -0.0168 -0.0625  ITC_TTM_Squeeze(20,2.0,1.5) 0.1124 0.0000 0.0000","dx":3},
"layer":[
{"data":{"name":"c"},"mark":{"type":"bar","width":2},
 "encoding":{"x":{"field":"k","type":"quantitative","scale":{"domain":[-0.333,231.333],"nice":false,"zero":false},"axis":null},
  "y":{"field":"m","type":"quantitative","scale":{"domain":[-0.365,0.348],"nice":false,"zero":false},
   "axis":{"orient":"right","title":null,"values":[0.2958,0,-0.3219],"labelExpr":"datum.value==0?'0.00':format(datum.value,'.4f')"}},
  "y2":{"datum":0},
  "color":{"condition":{"test":"datum.m>=0","value":"#00dd00"},"value":"#ff2020"}}},
{"data":{"values":[{"v":0}]},"mark":{"type":"rule","color":"#ffffff","strokeWidth":2,"strokeDash":[2,4]},
 "encoding":{"y":{"field":"v","type":"quantitative","scale":{"domain":[-0.365,0.348],"nice":false,"zero":false}}}},
{"data":{"name":"ind"},"mark":{"type":"line","color":"#e00000","strokeWidth":1.2},
 "encoding":{"x":{"field":"k","type":"quantitative","scale":{"domain":[-0.333,231.333],"nice":false,"zero":false},"axis":null},
  "y":{"field":"ms","type":"quantitative","scale":{"domain":[-0.365,0.348],"nice":false,"zero":false}}}}
]
},
{
"width":1390,"height":40,
"title":{"text":"Bandwidth(20,2) 21.5125","dx":3},
"layer":[
{"data":{"values":[{"v":100},{"v":20}]},"mark":{"type":"rule","color":"#d8c8a0","strokeDash":[8,4,2,4]},
 "encoding":{"y":{"field":"v","type":"quantitative","scale":{"domain":[-7.8,131.3],"nice":false,"zero":false},
  "axis":{"orient":"right","title":null,"values":[100,20]}}}},
{"data":{"name":"ind"},"mark":{"type":"line","color":"#d8d8d8","strokeWidth":1,"clip":true},
 "encoding":{"x":{"field":"k","type":"quantitative","scale":{"domain":[-0.333,231.333],"nice":false,"zero":false},
   "axis":{"title":null,"orient":"bottom","values":[0,8,16,24,32,40,48,56,64,72,80,88,96,104,112,120,128,136,144,152,160,168,176,184,192],"labelAlign":"left","labelPadding":1,"labelFontSize":7,"labelOverlap":false,
   "labelExpr":"['4 Aug 2020','7 Aug 08:00','11 Aug 20:00','14 Aug 12:00','19 Aug 00:00','21 Aug 16:00','26 Aug 04:00','28 Aug 20:00','2 Sep 08:00','6 Sep 20:00','9 Sep 12:00','14 Sep 00:00','16 Sep 16:00','21 Sep 04:00','23 Sep 20:00','28 Sep 08:00','1 Oct 00:00','5 Oct 12:00','8 Oct 04:00','12 Oct 16:00','15 Oct 08:00','19 Oct 20:00','22 Oct 12:00','27 Oct 00:00','29 Oct 16:00'][round(datum.value/8)]"}},
  "y":{"field":"bw","type":"quantitative","scale":{"domain":[-7.8,131.3],"nice":false,"zero":false}}}}
]
}
]
}
